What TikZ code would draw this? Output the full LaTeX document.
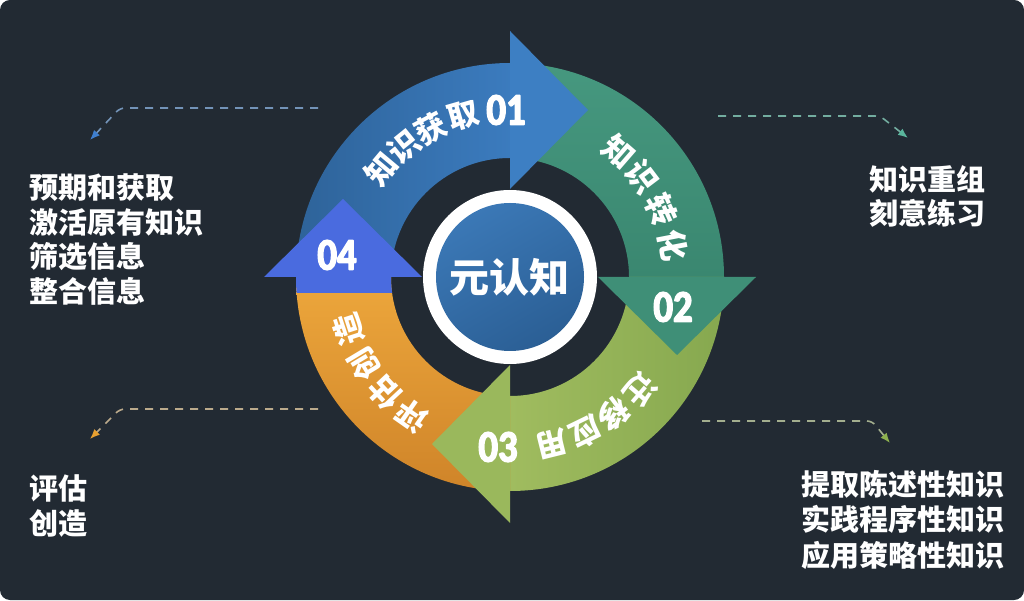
\documentclass[tikz,border=0pt]{standalone}
\usepackage{fontspec}
\newfontfamily\cjk{Noto Sans CJK SC}
\newfontfamily\numf[FakeStretch=0.86]{Carlito}
\newcommand\heavytxt[1]{\special{pdf:code q 2 Tr 1.4 w 1 1 1 RG 1 j}#1\special{pdf:code Q}}
\usetikzlibrary{arrows.meta}
\definecolor{bg}{HTML}{222A33}
\definecolor{c1a}{HTML}{2E6399}
\definecolor{c1b}{HTML}{3B7BBE}
\definecolor{h1}{HTML}{3D7FC3}
\definecolor{c2a}{HTML}{46987F}
\definecolor{c2b}{HTML}{3A8770}
\definecolor{h2}{HTML}{3F8F77}
\definecolor{c3a}{HTML}{86A84F}
\definecolor{c3b}{HTML}{A0BC5F}
\definecolor{h3}{HTML}{9AB85C}
\definecolor{c4a}{HTML}{EDA73C}
\definecolor{c4b}{HTML}{CF8429}
\definecolor{h4}{HTML}{4A6BDF}
\definecolor{disca}{HTML}{3B78B6}
\definecolor{discb}{HTML}{2B5F95}
\definecolor{d1}{HTML}{7393B8}
\definecolor{t1}{HTML}{3F7FD0}
\definecolor{d2}{HTML}{73ADA0}
\definecolor{t2}{HTML}{5AB59C}
\definecolor{d3}{HTML}{A3AE8E}
\definecolor{t3}{HTML}{8DB04F}
\definecolor{d4}{HTML}{BBAA8C}
\definecolor{t4}{HTML}{E8A030}
\begin{document}
\begin{tikzpicture}[x=1pt,y=1pt,
  ringtxt/.style={text=white, font=\cjk\bfseries\fontsize{31}{31}\selectfont, inner sep=0pt},
  numtxt/.style={text=white, font=\numf\bfseries\fontsize{45}{45}\selectfont, inner sep=0pt},
  sidetxt/.style={text=white, font=\cjk\bfseries\fontsize{29}{35}\selectfont, inner sep=0pt, anchor=base west},
  dashln/.style={line width=1.6pt, dash pattern=on 8pt off 7pt, rounded corners=5pt},
]
\useasboundingbox (0,0) rectangle (1024,600);
\fill[white] (0,0) rectangle (1024,600);
\fill[bg, rounded corners=10pt] (0,0) rectangle (1024,600);

\begin{scope}[shift={(510,323)}]
  % shafts
  \shade[left color=c1a, right color=c1b] (180:214) arc[start angle=180,end angle=90,radius=214] -- (90:119) arc[start angle=90,end angle=180,radius=119] -- cycle;
  \shade[top color=c2a, bottom color=c2b] (90:214) arc[start angle=90,end angle=0,radius=214] -- (0:119) arc[start angle=0,end angle=90,radius=119] -- cycle;
  \shade[left color=c3b, right color=c3a] (0:214) arc[start angle=0,end angle=-90,radius=214] -- (-90:119) arc[start angle=-90,end angle=0,radius=119] -- cycle;
  \shade[top color=c4a, bottom color=c4b] (270:214) arc[start angle=270,end angle=180,radius=214] -- (180:119) arc[start angle=180,end angle=270,radius=119] -- cycle;
  \begin{scope}
    \clip (180:214) arc[start angle=180,end angle=200,radius=214] -- (200:119) arc[start angle=200,end angle=180,radius=119] -- cycle;
    \fill[h4] (-220,-16) rectangle (-100,1);
  \end{scope}
  % heads
  \fill[h1] (0,88) -- (0,246) -- (78,167) -- cycle;
  \fill[h2] (88,0) -- (246,0) -- (167,-78) -- cycle;
  \fill[h3] (0,-88) -- (0,-246) -- (-78,-167) -- cycle;
  \fill[h4] (-88,0) -- (-246,0) -- (-167,78) -- cycle;
  % centre
  \fill[white] (0,0) circle[radius=87];
  \shade[left color=disca, right color=discb, shading angle=30] (0,0) circle[radius=74];
  \node[text=white, inner sep=0pt, font=\cjk\bfseries\fontsize{40}{40}\selectfont] (core) at (-1,0) {元认知};
  % ring texts
  \foreach \c/\a [count=\i] in {知/140,识/129,获/118,取/106}
    \node[ringtxt, rotate=\a-90] (ra\i) at (\a:168) {\c};
  \foreach \c/\a [count=\i] in {知/49,识/37,转/24,化/11}
    \node[ringtxt, rotate=\a-90] (rb\i) at (\a:166) {\c};
  \foreach \c/\a [count=\i] in {迁/-41,移/-53,应/-64,用/-76}
    \node[ringtxt, rotate=\a-90] (rc\i) at (\a:172) {\c};
  \foreach \c/\a [count=\i] in {评/235,估/223,创/211,造/198}
    \node[ringtxt, rotate=\a-90] (rd\i) at (\a:170) {\c};
  \node[numtxt] (n1) at (-4,167) {\heavytxt{01}};
  \node[numtxt] (n2) at (163,-30) {\heavytxt{02}};
  \node[numtxt] (n3) at (-12,-170) {\heavytxt{03}};
  \node[numtxt] (n4) at (-173,22) {\heavytxt{04}};
\end{scope}

% dashed pointers
\coordinate (lta) at (318,492); \coordinate (ltb) at (120,492); \coordinate (ltc) at (90,460);
\draw[dashln, draw=d1, -{Latex[length=10pt,width=8pt,color=t1]}] (lta) -- (ltb) -- (ltc);
\coordinate (rta) at (718,484); \coordinate (rtb) at (880,484); \coordinate (rtc) at (908,462);
\draw[dashln, draw=d2, -{Latex[length=10pt,width=8pt,color=t2]}] (rta) -- (rtb) -- (rtc);
\coordinate (rba) at (702,179); \coordinate (rbb) at (872,179); \coordinate (rbc) at (890,157);
\draw[dashln, draw=d3, -{Latex[length=10pt,width=8pt,color=t3]}] (rba) -- (rbb) -- (rbc);
\coordinate (lba) at (318,191); \coordinate (lbb) at (120,191); \coordinate (lbc) at (90,161);
\draw[dashln, draw=d4, -{Latex[length=10pt,width=8pt,color=t4]}] (lba) -- (lbb) -- (lbc);

% side texts
\node[sidetxt] (la1) at (29,401) {预期和获取};
\node[sidetxt] (la2) at (29,366.5) {激活原有知识};
\node[sidetxt] (la3) at (29,332) {筛选信息};
\node[sidetxt] (la4) at (29,297.5) {整合信息};
\node[sidetxt] (ra1t) at (869,409) {知识重组};
\node[sidetxt] (ra2t) at (869,375) {刻意练习};
\node[sidetxt] (rb1t) at (801,105) {提取陈述性知识};
\node[sidetxt] (rb2t) at (801,69.5) {实践程序性知识};
\node[sidetxt] (rb3t) at (801,34) {应用策略性知识};
\node[sidetxt] (lb1) at (29,101) {评估};
\node[sidetxt] (lb2) at (29,66) {创造};
\end{tikzpicture}
\end{document}
